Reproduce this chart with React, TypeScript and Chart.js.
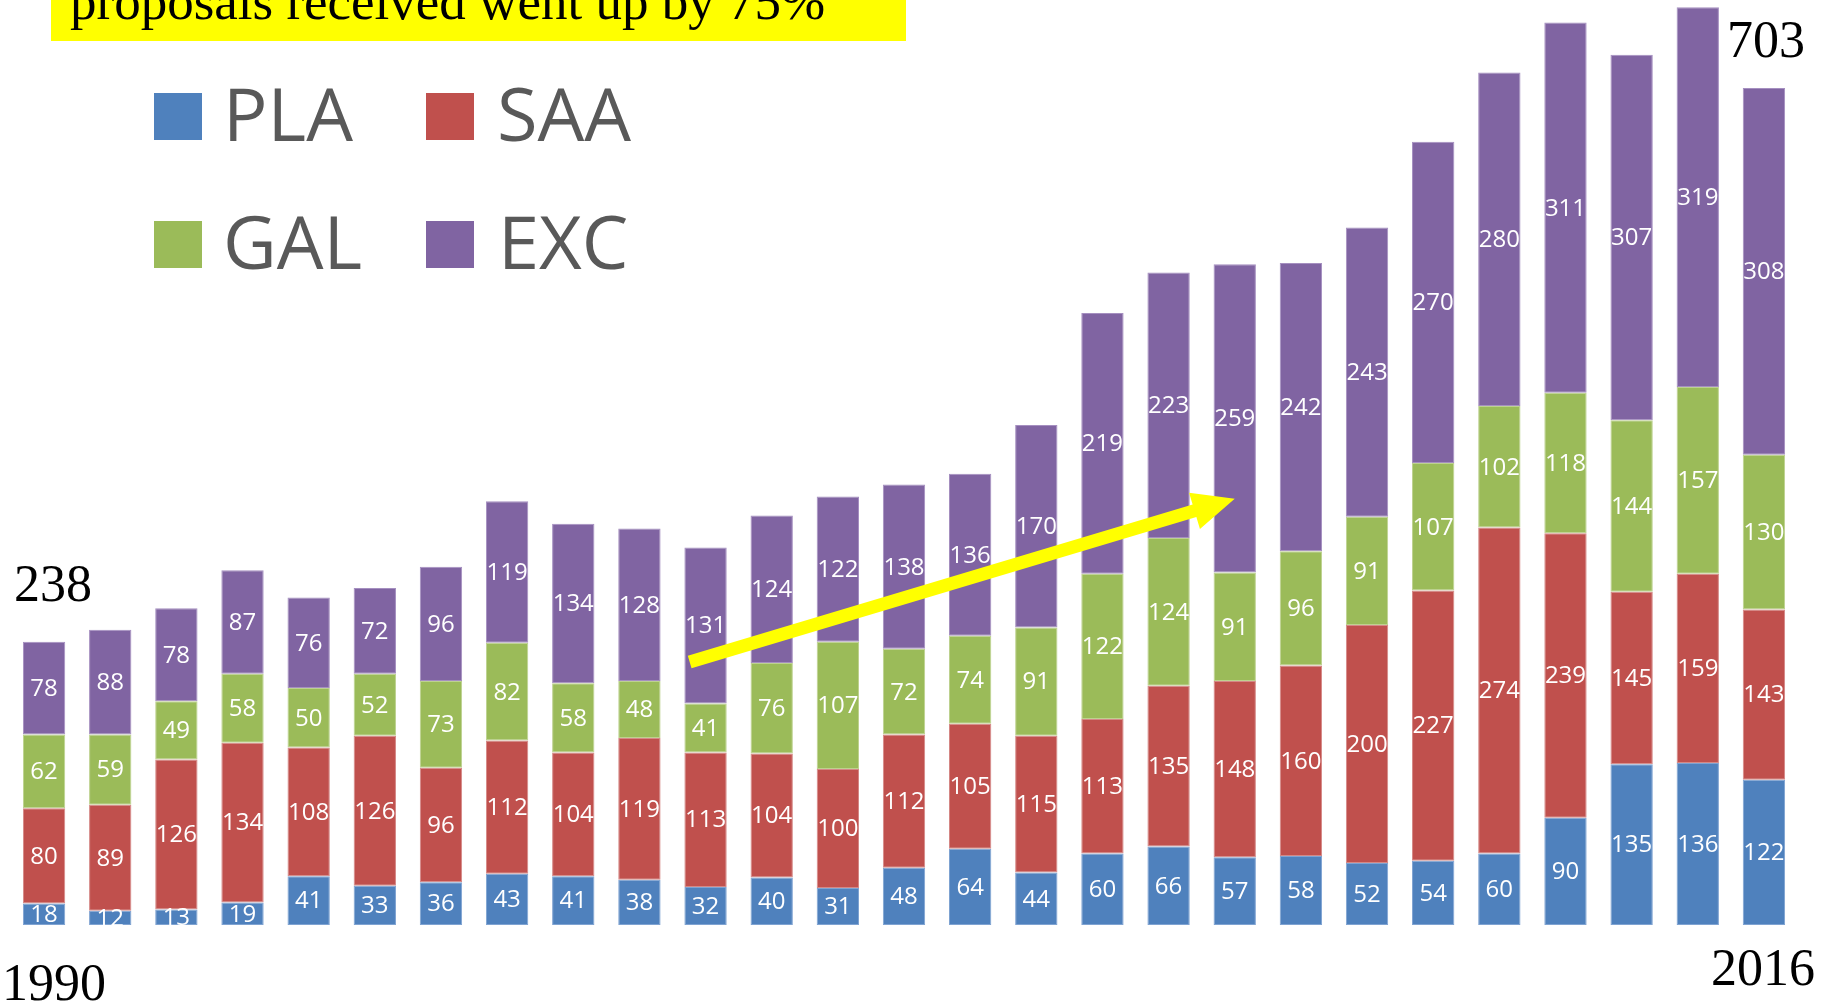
import React, { useEffect, useRef } from "react";
import { Chart, registerables } from "chart.js";

Chart.register(...registerables);

const years = ["1990","1991","1992","1993","1994","1995","1996","1997","1998","1999","2000","2001","2002","2003","2004","2005","2006","2007","2008","2009","2010","2011","2012","2013","2014","2015","2016"];
const pla = [18,12,13,19,41,33,36,43,41,38,32,40,31,48,64,44,60,66,57,58,52,54,60,90,135,136,122];
const saa = [80,89,126,134,108,126,96,112,104,119,113,104,100,112,105,115,113,135,148,160,200,227,274,239,145,159,143];
const gal = [62,59,49,58,50,52,73,82,58,48,41,76,107,72,74,91,122,124,91,96,91,107,102,118,144,157,130];
const exc = [78,88,78,87,76,72,96,119,134,128,131,124,122,138,136,170,219,223,259,242,243,270,280,311,307,319,308];
const seriesNames = ["PLA", "SAA", "GAL", "EXC"];
const seriesColors = ["#4F81BD", "#C0504D", "#9BBB59", "#8064A2"];
const seriesBorders = ["#7FA3D2", "#D58886", "#BDD28F", "#A58FC0"];
// arrow: [x index, value] tail and tip
const arrowTail = [9.76, 221];
const arrowTip = [18.0, 358];
const headline = "proposals received went up by 75%";
const firstTotal = "238";
const lastTotal = "703";
const firstYear = "1990";
const lastYear = "2016";

const labelPlugin = {
  id: "segLabels",
  afterDatasetsDraw(chart: any) {
    const ctx = chart.ctx;
    const area = chart.chartArea;
    ctx.save();
    ctx.beginPath();
    ctx.rect(area.left, area.top, area.right - area.left, area.bottom - area.top);
    ctx.clip();
    ctx.fillStyle = "#FFFFFF";
    ctx.font = "24px 'Open Sans'";
    ctx.textAlign = "center";
    ctx.textBaseline = "middle";
    chart.data.datasets.forEach((ds: any, di: number) => {
      const meta = chart.getDatasetMeta(di);
      meta.data.forEach((bar: any, i: number) => {
        const y = (bar.y + bar.base) / 2;
        ctx.fillText(String(ds.data[i]), bar.x, y + 1);
      });
    });
    ctx.restore();

    // arrow
    const xs = chart.scales.x;
    const ys = chart.scales.y;
    const x1 = xs.getPixelForValue(arrowTail[0]);
    const y1 = ys.getPixelForValue(arrowTail[1]);
    const x2 = xs.getPixelForValue(arrowTip[0]);
    const y2 = ys.getPixelForValue(arrowTip[1]);
    const dx = x2 - x1, dy = y2 - y1;
    const len = Math.sqrt(dx * dx + dy * dy);
    const ux = dx / len, uy = dy / len;
    const nx = -uy, ny = ux;
    const shaftW = 13, headW = 38, headL = 42;
    const bx = x2 - ux * headL, by = y2 - uy * headL;
    ctx.save();
    ctx.fillStyle = "#FFFF00";
    ctx.beginPath();
    ctx.moveTo(x1 + nx * shaftW / 2, y1 + ny * shaftW / 2);
    ctx.lineTo(bx + nx * shaftW / 2, by + ny * shaftW / 2);
    ctx.lineTo(bx + nx * headW / 2, by + ny * headW / 2);
    ctx.lineTo(x2, y2);
    ctx.lineTo(bx - nx * headW / 2, by - ny * headW / 2);
    ctx.lineTo(bx - nx * shaftW / 2, by - ny * shaftW / 2);
    ctx.lineTo(x1 - nx * shaftW / 2, y1 - ny * shaftW / 2);
    ctx.closePath();
    ctx.fill();
    ctx.restore();
  },
};

export default function App() {
  const ref = useRef<HTMLCanvasElement>(null);
  useEffect(() => {
    document.body.style.margin = "0";
    document.documentElement.style.overflow = "hidden";
    const data = [pla, saa, gal, exc];
    const chart = new Chart(ref.current as HTMLCanvasElement, {
      type: "bar",
      data: {
        labels: years,
        datasets: data.map((d, i) => ({
          label: seriesNames[i],
          data: d,
          backgroundColor: seriesColors[i],
          borderColor: seriesBorders[i],
          borderWidth: 1,
          borderSkipped: false,
          barPercentage: 0.64,
          categoryPercentage: 1,
        })),
      },
      options: {
        animation: false,
        responsive: false,
        devicePixelRatio: 1,
        layout: { padding: { left: 11, right: 30, top: 0, bottom: 76 } },
        plugins: { legend: { display: false }, tooltip: { enabled: false }, title: { display: false } },
        scales: {
          x: { stacked: true, display: false, offset: true, grid: { display: false } },
          y: { stacked: true, display: false, min: 0, max: 777, grid: { display: false } },
        },
      },
      plugins: [labelPlugin],
    } as any);
    return () => chart.destroy();
  }, []);

  const serif: React.CSSProperties = {
    position: "absolute",
    fontFamily: "'Liberation Serif', 'Times New Roman', serif",
    color: "#000",
    lineHeight: 1,
    whiteSpace: "nowrap",
  };
  const legendText: React.CSSProperties = {
    position: "absolute",
    fontFamily: "'Open Sans', sans-serif",
    fontSize: 74,
    lineHeight: 1,
    color: "#595959",
    whiteSpace: "nowrap",
  };
  const sq = (c: string, left: number, top: number): React.CSSProperties => ({
    position: "absolute", left, top, width: 48, height: 47, background: c,
  });

  return (
    <div style={{ position: "relative", width: 1827, height: 1001, overflow: "hidden", background: "#fff" }}>
      <canvas ref={ref} width={1827} height={1001} style={{ position: "absolute", left: 0, top: 0, width: 1827, height: 1001 }} />
      <div style={{ position: "absolute", left: 51, top: 0, width: 855, height: 41, background: "#FFFF00", overflow: "hidden" }}>
        <div style={{ ...serif, left: 19, top: -25, fontSize: 53 }}>{headline}</div>
      </div>
      <div style={sq(seriesColors[0], 154, 93)} />
      <div style={{ ...legendText, left: 223, top: 76 }}>{seriesNames[0]}</div>
      <div style={sq(seriesColors[1], 426, 93)} />
      <div style={{ ...legendText, left: 497, top: 76 }}>{seriesNames[1]}</div>
      <div style={sq(seriesColors[2], 154, 221)} />
      <div style={{ ...legendText, left: 223, top: 204 }}>{seriesNames[2]}</div>
      <div style={sq(seriesColors[3], 426, 221)} />
      <div style={{ ...legendText, left: 498, top: 204 }}>{seriesNames[3]}</div>
      <div style={{ ...serif, left: 14, top: 558, fontSize: 52 }}>{firstTotal}</div>
      <div style={{ ...serif, left: 1727, top: 14, fontSize: 52 }}>{lastTotal}</div>
      <div style={{ ...serif, left: 2, top: 957, fontSize: 52 }}>{firstYear}</div>
      <div style={{ ...serif, left: 1711, top: 942, fontSize: 52 }}>{lastYear}</div>
    </div>
  );
}
